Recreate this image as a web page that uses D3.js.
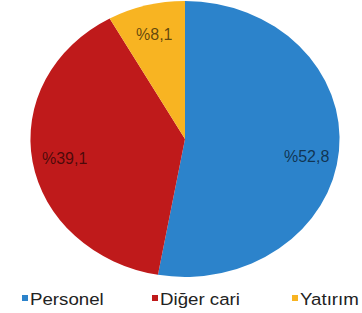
<!DOCTYPE html>
<html><head><meta charset="utf-8">
<script src="https://cdn.jsdelivr.net/npm/d3@7"></script>
<style>html,body{margin:0;padding:0;background:#fff;}svg{display:block;}</style>
</head><body>
<script>
const categories = ["Personel", "Diğer cari", "Yatırım"];
const values = [52.8, 39.1, 8.1];
const labels = ["%52,8", "%39,1", "%8,1"];
const colors = ["#2c83cb", "#bf1a1b", "#f8b422"];

const W = 362, H = 313;
const cx = 185, cy = 139, R = 138, sx = 1.12;
const svg = d3.select("body").append("svg").attr("width", W).attr("height", H);
svg.append("rect").attr("width", W).attr("height", H).attr("fill", "#fff");

const data = categories.map((c, i) => ({cat: c, value: values[i], label: labels[i], color: colors[i]}));
const pie = d3.pie().sort(null).value(d => d.value);
const arcs = pie(data);
const arc = d3.arc().innerRadius(0).outerRadius(R);
const labelArc = d3.arc().innerRadius(R * 0.79).outerRadius(R * 0.79);

const g = svg.append("g").attr("transform", `translate(${cx},${cy}) scale(${sx},1)`);
g.selectAll("path").data(arcs).enter().append("path")
  .attr("d", arc).attr("fill", d => d.data.color);

const lg = svg.append("g").attr("transform", `translate(${cx},${cy})`);
const nudge = [[0, 8], [0, 1], [0, 1]];
lg.selectAll("text").data(arcs).enter().append("text")
  .attr("x", (d, i) => labelArc.centroid(d)[0] * sx + nudge[i][0])
  .attr("y", (d, i) => labelArc.centroid(d)[1] + nudge[i][1])
  .attr("text-anchor", "middle").attr("dominant-baseline", "central")
  .attr("font-family", "Liberation Sans, Arial, sans-serif").attr("font-size", 16)
  .attr("fill", "#000").attr("fill-opacity", 0.62)
  .text(d => d.data.label);

const legendX = [22, 152, 292];
const leg = svg.append("g");
data.forEach((d, i) => {
  leg.append("rect").attr("x", legendX[i]).attr("y", 295).attr("width", 6).attr("height", 6).attr("fill", d.color);
  leg.append("text").attr("transform", `translate(${legendX[i] + 8},304.5) scale(1.1,1)`)
    .attr("font-family", "Liberation Sans, Arial, sans-serif").attr("font-size", 17)
    .attr("fill", "#222").text(d.cat);
});
</script>
</body></html>
